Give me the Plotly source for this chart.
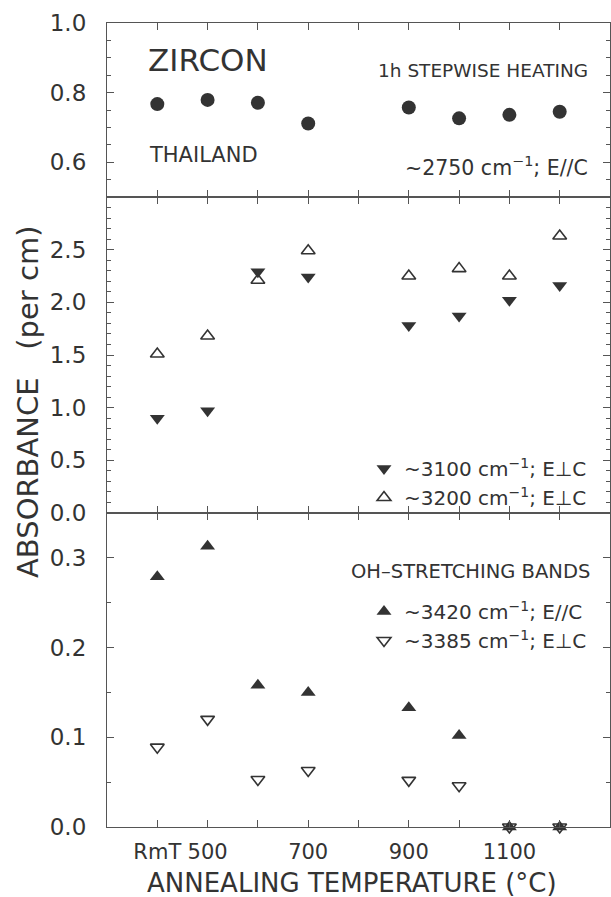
import plotly.graph_objects as go

# ---------------- data ----------------
temps = [400, 500, 600, 700, 900, 1000, 1100, 1200]   # 400 == room temperature (RmT)
band_2750 = [0.767, 0.779, 0.771, 0.711, 0.757, 0.726, 0.736, 0.745]
band_3100 = [0.90, 0.97, 2.29, 2.24, 1.78, 1.87, 2.02, 2.16]
band_3200 = [1.51, 1.68, 2.21, 2.49, 2.25, 2.32, 2.25, 2.63]
band_3420 = [0.279, 0.313, 0.158, 0.150, 0.133, 0.102, 0.0, 0.0]
band_3385 = [0.089, 0.120, 0.053, 0.063, 0.052, 0.046, 0.0, 0.0]

x_tickvals = [400, 500, 600, 700, 800, 900, 1000, 1100, 1200]
x_ticktext = ["RmT", "500", "", "700", "", "900", "", "1100", ""]

# ---------------- styling ----------------
FONT = "DejaVu Sans"
INK = "#333333"
AXC = "#555555"
W, H = 611, 897
ML, MR, MT, MB = 107, 1, 23, 70
PW = W - ML - MR
PH = H - MT - MB
h1, h2, h3 = 174, 316, 314
d3 = [0, h3 / PH]
d2 = [h3 / PH, (h3 + h2) / PH]
d1 = [(h3 + h2) / PH, 1]


def px(xp):
    return (xp - ML) / PW


def py(yp):
    return (H - MB - yp) / PH


fig = go.Figure()

fig.add_trace(go.Scatter(x=temps, y=band_2750, mode="markers", xaxis="x", yaxis="y",
                         marker=dict(symbol="circle", size=14, color=INK),
                         showlegend=False, cliponaxis=False))

sup = "cm<sup>\u22121</sup>"
fig.add_trace(go.Scatter(x=temps, y=band_3100, mode="markers", xaxis="x2", yaxis="y2",
                         name="~3100 " + sup + "; E\u22a5C", legend="legend",
                         marker=dict(symbol="triangle-down", size=13, color=INK,
                                     line=dict(width=0)),
                         cliponaxis=False))
fig.add_trace(go.Scatter(x=temps, y=band_3200, mode="markers", xaxis="x2", yaxis="y2",
                         name="~3200 " + sup + "; E\u22a5C", legend="legend",
                         marker=dict(symbol="triangle-up-open", size=12, color=INK,
                                     line=dict(width=1.6, color=INK)),
                         cliponaxis=False))
fig.add_trace(go.Scatter(x=temps, y=band_3420, mode="markers", xaxis="x3", yaxis="y3",
                         name="~3420 " + sup + "; E//C", legend="legend2",
                         marker=dict(symbol="triangle-up", size=13, color=INK,
                                     line=dict(width=0)),
                         cliponaxis=False))
fig.add_trace(go.Scatter(x=temps, y=band_3385, mode="markers", xaxis="x3", yaxis="y3",
                         name="~3385 " + sup + "; E\u22a5C", legend="legend2",
                         marker=dict(symbol="triangle-down-open", size=12, color=INK,
                                     line=dict(width=1.6, color=INK)),
                         cliponaxis=False))

xcommon = dict(range=[300, 1300], tickvals=x_tickvals, ticktext=x_ticktext,
               ticks="inside", ticklen=7, tickwidth=1.2, tickcolor=AXC,
               showline=True, linecolor=AXC, linewidth=1.2, mirror="ticks",
               showgrid=False, zeroline=False, ticklabelstandoff=6,
               tickfont=dict(family=FONT, size=21, color=INK))
ycommon = dict(ticks="inside", ticklen=7, tickwidth=1.2, tickcolor=AXC,
               showline=True, linecolor=AXC, linewidth=1.2, mirror="ticks",
               showgrid=False, zeroline=False, ticklabelstandoff=15,
               tickfont=dict(family=FONT, size=23, color=INK))

fig.update_layout(
    width=W, height=H,
    margin=dict(l=ML, r=MR, t=MT, b=MB),
    paper_bgcolor="white", plot_bgcolor="white",
    font=dict(family=FONT, color=INK),
    xaxis=dict(xcommon, anchor="y", domain=[0, 1], showticklabels=False),
    xaxis2=dict(xcommon, anchor="y2", domain=[0, 1], showticklabels=False),
    xaxis3=dict(xcommon, anchor="y3", domain=[0, 1], showticklabels=True),
    yaxis=dict(ycommon, anchor="x", domain=d1, range=[0.5, 1.0],
               tickvals=[0.6, 0.8, 1.0], ticktext=["0.6", "0.8", "1.0"],
               minor=dict(dtick=0.05, tick0=0.5, ticks="inside", ticklen=4, tickcolor=AXC)),
    yaxis2=dict(ycommon, anchor="x2", domain=d2, range=[0, 3.0],
                tickvals=[0, 0.5, 1.0, 1.5, 2.0, 2.5], ticktext=["0.0", "0.5", "1.0", "1.5", "2.0", "2.5"],
                minor=dict(dtick=0.1, tick0=0, ticks="inside", ticklen=4, tickcolor=AXC)),
    yaxis3=dict(ycommon, anchor="x3", domain=d3, range=[0, 0.35],
                tickvals=[0, 0.1, 0.2, 0.3], ticktext=["0.0", "0.1", "0.2", "0.3"],
                minor=dict(dtick=0.05, tick0=0, ticks="inside", ticklen=4, tickcolor=AXC)),
    legend=dict(x=px(592), y=py(449), xanchor="right", yanchor="top",
                bgcolor="rgba(0,0,0,0)", font=dict(family=FONT, size=20, color=INK),
                itemwidth=30, tracegroupgap=0),
    legend2=dict(x=px(592), y=py(592), xanchor="right", yanchor="top",
                 bgcolor="rgba(0,0,0,0)", font=dict(family=FONT, size=20, color=INK),
                 itemwidth=30, tracegroupgap=0),
)

ann = [
    dict(text="ZIRCON", x=px(146), y=py(60), xanchor="left", yanchor="middle",
         font=dict(family=FONT, size=31, color=INK)),
    dict(text="THAILAND", x=px(147), y=py(155), xanchor="left", yanchor="middle",
         font=dict(family=FONT, size=21, color=INK)),
    dict(text="1h STEPWISE HEATING", x=px(590), y=py(70), xanchor="right", yanchor="middle",
         font=dict(family=FONT, size=18.5, color=INK)),
    dict(text="~2750 " + sup + "; E//C", x=px(590), y=py(166), xanchor="right", yanchor="middle",
         font=dict(family=FONT, size=20.5, color=INK)),
    dict(text="OH\u2013STRETCHING BANDS", x=px(592), y=py(571), xanchor="right", yanchor="middle",
         font=dict(family=FONT, size=19.5, color=INK)),
    dict(text="ABSORBANCE&nbsp;&nbsp; (per cm)", x=px(28), y=py(402), xanchor="center",
         yanchor="middle", textangle=-90, font=dict(family=FONT, size=29, color=INK)),
    dict(text="ANNEALING TEMPERATURE (\u00b0C)", x=px(352), y=py(883), xanchor="center",
         yanchor="middle", font=dict(family=FONT, size=26, color=INK)),
]
for a in ann:
    a.update(xref="paper", yref="paper", showarrow=False)
fig.update_layout(annotations=ann)

fig.write_html("out.html",
               config={"displayModeBar": False},
               post_script="document.body.style.margin='0';"
                           "document.body.style.overflow='hidden';")
